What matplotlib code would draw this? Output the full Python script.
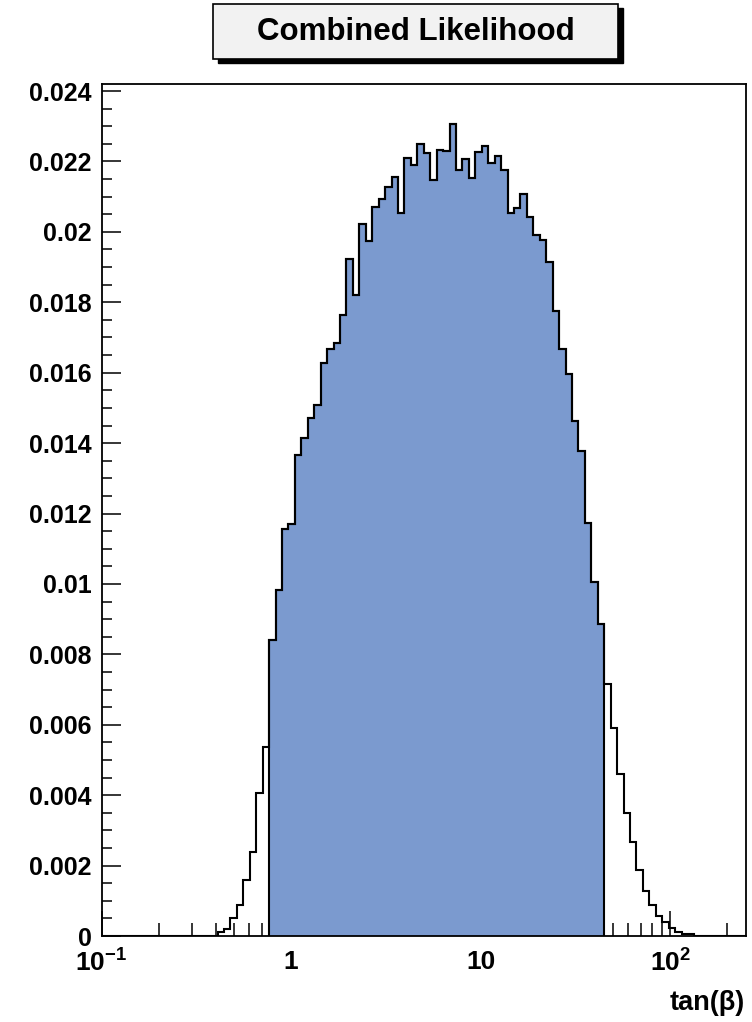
import numpy as np
import matplotlib
matplotlib.use('Agg')
import matplotlib.pyplot as plt
from matplotlib.patches import Rectangle
from matplotlib.ticker import FixedLocator, FixedFormatter, MultipleLocator, FuncFormatter

plt.rcParams['font.family'] = ['Liberation Sans', 'DejaVu Sans']
plt.rcParams['font.weight'] = 'bold'
plt.rcParams['mathtext.fontset'] = 'custom'
plt.rcParams['mathtext.rm'] = 'Liberation Sans:bold'
plt.rcParams['mathtext.it'] = 'Liberation Sans:bold'
plt.rcParams['mathtext.bf'] = 'Liberation Sans:bold'

# histogram binning: 100 bins, uniform in log10(tan beta)
log_lo = -1.0
log_hi = 2.4
n_bins = 100

# bin contents, starting at bin 18 (all others empty)
first_bin = 18
contents = [0.0001, 0.0002, 0.0005, 0.00088, 0.00158, 0.0024, 0.00405, 0.00536,
            0.00842, 0.00984, 0.01155, 0.01169, 0.01366, 0.01415, 0.0147, 0.01508,
            0.01628, 0.01666, 0.01683, 0.01765, 0.01922, 0.0182, 0.02021, 0.01974,
            0.0207, 0.02092, 0.02128, 0.02157, 0.02055, 0.02211, 0.0219, 0.0225,
            0.02225, 0.02146, 0.02232, 0.0223, 0.02305, 0.02175, 0.02206, 0.02152,
            0.02228, 0.02244, 0.02197, 0.02215, 0.02175, 0.02053, 0.02069, 0.02107,
            0.02043, 0.0199, 0.01978, 0.01913, 0.01775, 0.01667, 0.01595, 0.01463,
            0.01377, 0.01174, 0.01006, 0.00885, 0.00716, 0.0059, 0.00459, 0.0035,
            0.00268, 0.00187, 0.00127, 0.00087, 0.00056, 0.00039, 0.00023, 0.00011,
            0.00006, 0.00005]

# shaded region (bin indices, inclusive)
fill_first = 26
fill_last = 77

title = 'Combined Likelihood'
xlabel = 'tan(\u03b2)'
xtick_vals = [0.1, 1, 10, 100]
xtick_labels = ['$10^{-1}$', '1', '10', '$10^{2}$']

edges = np.logspace(log_lo, log_hi, n_bins + 1)
vals = np.zeros(n_bins)
vals[first_bin:first_bin + len(contents)] = contents

W, H = 752, 1022
fig = plt.figure(figsize=(W / 100, H / 100), dpi=100)
ax = fig.add_axes([101.5 / W, 1 - 936 / H, (746 - 101.5) / W, (936 - 84) / H])

fillc = '#7b9acf'
ax.stairs(vals[fill_first:fill_last + 1], edges[fill_first:fill_last + 2], fill=True,
          facecolor=fillc, edgecolor='black', linewidth=1.5, zorder=2)
ax.stairs(vals, edges, color='black', linewidth=1.5, zorder=3)

ax.set_xscale('log')
ax.set_xlim(10 ** log_lo, 10 ** log_hi)
ax.set_ylim(0, 0.0242)

ax.xaxis.set_major_locator(FixedLocator(xtick_vals))
ax.xaxis.set_major_formatter(FixedFormatter(xtick_labels))
minors = [m * 10.0 ** e for e in range(-1, 3) for m in range(2, 10)]
ax.xaxis.set_minor_locator(FixedLocator(minors))
ax.xaxis.set_minor_formatter(FixedFormatter([''] * len(minors)))

ax.yaxis.set_major_locator(MultipleLocator(0.002))
ax.yaxis.set_minor_locator(MultipleLocator(0.0005))
ax.yaxis.set_major_formatter(FuncFormatter(lambda v, p: '%g' % round(v, 6)))

ax.tick_params(axis='x', which='major', direction='in', length=18, width=1.1,
               labelsize=19, pad=10)
ax.tick_params(axis='x', which='minor', direction='in', length=9.4, width=1.1)
ax.tick_params(axis='y', which='major', direction='in', length=14, width=1.1,
               labelsize=18, pad=7)
ax.tick_params(axis='y', which='minor', direction='in', length=7, width=1.1)
for sp in ax.spines.values():
    sp.set_linewidth(1.3)

fig.text(745 / W, 1 - 1003 / H, xlabel, ha='right', va='center', fontsize=19.5,
         fontweight='bold')

# title box with drop shadow
bx0, bx1, by0, by1 = 212.7, 618.3, 4, 59.3
fig.patches.append(Rectangle(((bx0 + 5) / W, 1 - (by1 + 4) / H), (bx1 - bx0) / W,
                             (by1 - by0) / H, transform=fig.transFigure,
                             facecolor='black', edgecolor='black', zorder=1))
fig.patches.append(Rectangle((bx0 / W, 1 - by1 / H), (bx1 - bx0) / W, (by1 - by0) / H,
                             transform=fig.transFigure, facecolor='#f2f2f2',
                             edgecolor='black', linewidth=1.2, zorder=2))
fig.text((bx0 + bx1) / 2 / W, 1 - (by0 + by1) / 2 / H, title, ha='center', va='center',
         fontsize=22.5, fontweight='bold', zorder=3)

fig.savefig('out.png', dpi=100)
